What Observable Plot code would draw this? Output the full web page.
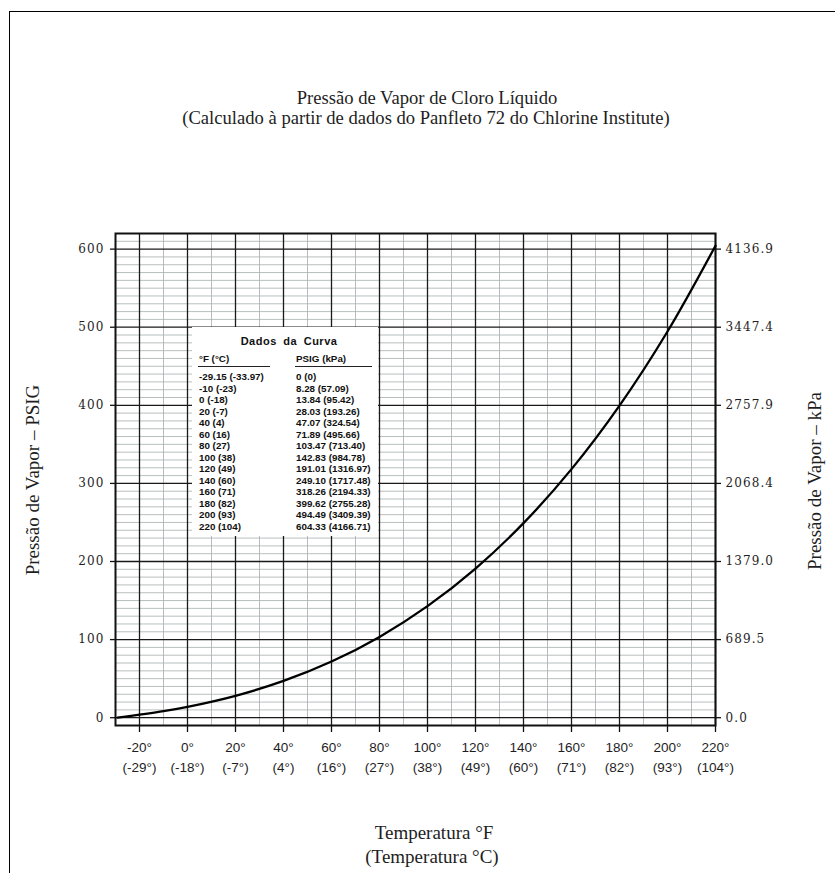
<!DOCTYPE html>
<html><head><meta charset="utf-8">
<script src="https://cdn.jsdelivr.net/npm/d3@7"></script>
<script src="https://cdn.jsdelivr.net/npm/@observablehq/plot@0.6"></script>
<style>
body{margin:0;background:#fff;}
#page{position:relative;width:835px;height:873px;overflow:hidden;background:#fff;}
#border{position:absolute;left:9px;top:11px;width:900px;height:900px;border-left:1.6px solid #000;border-top:1.6px solid #000;}
.t{position:absolute;font-family:"Liberation Serif",serif;color:#1e1e1e;white-space:nowrap;transform:translate(-50%,-50%);font-size:18.6px;}
.rot{transform:translate(-50%,-50%) rotate(-90deg);font-size:19px;}
#chart{position:absolute;left:0;top:200px;}
#table{position:absolute;left:192px;top:327px;width:186px;height:209px;background:#fff;font-family:"Liberation Sans",Arial,sans-serif;font-weight:bold;font-size:9.8px;color:#111;}
#table div{position:absolute;white-space:nowrap;line-height:11px;}
#table .ul{height:0;border-top:1px solid #222;}
g[aria-label="y-axis tick label"]{letter-spacing:1.1px;}
</style></head>
<body>
<div id="page">
  <div id="border"></div>
  <div class="t" style="left:427px;top:98px;">Pressão de Vapor de Cloro Líquido</div>
  <div class="t" style="left:426px;top:118px;">(Calculado à partir de dados do Panfleto 72 do Chlorine Institute)</div>
  <div class="t" style="left:434px;top:833px;font-size:19px;">Temperatura °F</div>
  <div class="t" style="left:432px;top:857px;font-size:19px;">(Temperatura °C)</div>
  <div class="t rot" style="left:33px;top:480px;">Pressão de Vapor – PSIG</div>
  <div class="t rot" style="left:815px;top:481px;">Pressão de Vapor – kPa</div>
  <div id="chart"></div>
  <div id="table"></div>
</div>
<script>
// Curve data (Dados da Curva)
const tempF = [-29.15, -10, 0, 20, 40, 60, 80, 100, 120, 140, 160, 180, 200, 220];
const tempC = [-33.97, -23, -18, -7, 4, 16, 27, 38, 49, 60, 71, 82, 93, 104];
const psig  = [0, 8.28, 13.84, 28.03, 47.07, 71.89, 103.47, 142.83, 191.01, 249.10, 318.26, 399.62, 494.49, 604.33];
const kpa   = [0, 57.09, 95.42, 193.26, 324.54, 495.66, 713.40, 984.78, 1316.97, 1717.48, 2194.33, 2755.28, 3409.39, 4166.71];

// Axis ticks
const xTicksF = [-20, 0, 20, 40, 60, 80, 100, 120, 140, 160, 180, 200, 220];
const xTicksC = [-29, -18, -7, 4, 16, 27, 38, 49, 60, 71, 82, 93, 104];
const yTicksPsig = [0, 100, 200, 300, 400, 500, 600];
const yTicksKpa = ["0.0", "689.5", "1379.0", "2068.4", "2757.9", "3447.4", "4136.9"];

const xMinor = d3.range(-30, 221, 10).filter(v => !xTicksF.includes(v));
const yMinor = d3.range(-10, 621, 10).filter(v => !yTicksPsig.includes(v));

const cOf = new Map(xTicksF.map((f, i) => [f, xTicksC[i]]));
const kOf = new Map(yTicksPsig.map((p, i) => [p, yTicksKpa[i]]));
const curve = tempF.map((f, i) => ({f, p: psig[i]}));

const chart = Plot.plot({
  width: 835,
  height: 600,
  marginLeft: 115,
  marginRight: 120,
  marginTop: 33,
  marginBottom: 75,
  style: {background: "transparent", color: "#1e1e1e"},
  x: {domain: [-30, 220]},
  y: {domain: [-10, 620]},
  marks: [
    Plot.ruleX(xMinor, {stroke: "#a6adad", strokeWidth: 0.8}),
    Plot.ruleY(yMinor, {stroke: "#a6adad", strokeWidth: 0.8}),
    Plot.ruleX(xTicksF, {stroke: "#1a1a1a", strokeWidth: 1.3}),
    Plot.ruleY(yTicksPsig, {stroke: "#1a1a1a", strokeWidth: 1.3}),
    Plot.frame({stroke: "#111", strokeWidth: 2}),
    Plot.axisX(xTicksF, {
      anchor: "bottom", tickSize: 7, tickPadding: 5, label: null,
      tickFormat: d => `${d}°\n(${cOf.get(d)}°)`,
      lineHeight: 1.5, fontSize: 13.5, fontFamily: "Liberation Sans, Arial, sans-serif",
      stroke: "#111", strokeWidth: 1.3
    }),
    Plot.axisY(yTicksPsig, {
      anchor: "left", tickSize: 5, tickPadding: 6, label: null,
      tickFormat: d => String(d),
      fontSize: 12, fontFamily: "DejaVu Serif, serif",
      stroke: "#111", strokeWidth: 1.3
    }),
    Plot.axisY(yTicksPsig, {
      anchor: "right", tickSize: 5, tickPadding: 5, label: null,
      tickFormat: d => kOf.get(d),
      fontSize: 12, fontFamily: "DejaVu Serif, serif",
      stroke: "#111", strokeWidth: 1.3
    }),
    Plot.line(curve, {x: "f", y: "p", curve: "catmull-rom", stroke: "#000", strokeWidth: 2.3})
  ]
});
document.getElementById("chart").append(chart);

// Data table overlay
const tbl = document.getElementById("table");
function add(html, css, cls) {
  const d = document.createElement("div");
  d.innerHTML = html;
  d.style.cssText = css;
  if (cls) d.className = cls;
  tbl.append(d);
}
add("Dados da Curva", "left:0;width:186px;text-align:center;top:9px;font-size:11px;letter-spacing:0.5px;word-spacing:3px;padding-left:8px;box-sizing:border-box;");
add("°F (°C)", "left:7px;top:26px;");
add("PSIG (kPa)", "left:104px;top:26px;");
add("", "left:6px;top:39px;width:72px;", "ul");
add("", "left:103px;top:39px;width:77px;", "ul");
const fmt = v => v === 0 ? "0" : v.toFixed(2);
tempF.forEach((f, i) => {
  const top = 44 + i * 11.54;
  add(`${f} (${tempC[i]})`, `left:7px;top:${top}px;`);
  add(`${fmt(psig[i])} (${fmt(kpa[i])})`, `left:104px;top:${top}px;`);
});
</script>
</body></html>
